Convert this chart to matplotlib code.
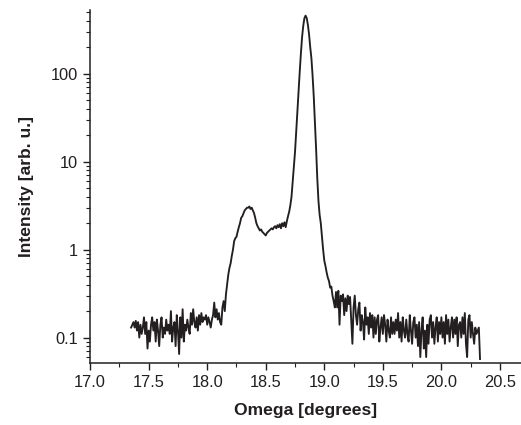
import numpy as np
import matplotlib
matplotlib.use("Agg")
import matplotlib.pyplot as plt
from matplotlib.ticker import LogLocator, FixedLocator, NullFormatter

plt.rcParams['font.family'] = ['Liberation Sans', 'DejaVu Sans']

omega_start = 17.35
omega_step = 0.01

intensity = [
    # 17.35 - 17.44
    0.13, 0.14, 0.15, 0.13, 0.155, 0.12, 0.15, 0.10, 0.14, 0.11,
    # 17.45 - 17.54
    0.13, 0.17, 0.11, 0.15, 0.075, 0.12, 0.09, 0.14, 0.17, 0.12,
    # 17.55 - 17.64
    0.15, 0.09, 0.16, 0.12, 0.08, 0.14, 0.17, 0.10, 0.13, 0.11,
    # 17.65 - 17.74
    0.16, 0.12, 0.14, 0.11, 0.20, 0.09, 0.13, 0.15, 0.08, 0.18,
    # 17.75 - 17.84
    0.12, 0.065, 0.17, 0.10, 0.21, 0.09, 0.14, 0.12, 0.16, 0.13,
    # 17.85 - 17.94
    0.11, 0.19, 0.14, 0.21, 0.15, 0.13, 0.17, 0.12, 0.18, 0.14,
    # 17.95 - 18.04
    0.19, 0.15, 0.17, 0.16, 0.18, 0.14, 0.17, 0.15, 0.13, 0.16,
    # 18.05 - 18.14
    0.18, 0.25, 0.17, 0.21, 0.16, 0.19, 0.15, 0.14, 0.22, 0.26,
    # 18.15 - 18.24
    0.20, 0.31, 0.40, 0.52, 0.62, 0.70, 0.85, 1.0, 1.25, 1.35,
    # 18.25 - 18.34
    1.4, 1.6, 1.8, 2.0, 2.3, 2.4, 2.6, 2.8, 2.9, 3.0,
    # 18.35 - 18.44
    3.0, 3.1, 2.9, 3.0, 2.8, 2.6, 2.3, 2.0, 1.85, 1.75,
    # 18.45 - 18.54
    1.65, 1.7, 1.6, 1.55, 1.5, 1.45, 1.55, 1.6, 1.65, 1.7,
    # 18.55 - 18.64
    1.75, 1.7, 1.8, 1.85, 1.75, 1.9, 1.8, 1.95, 1.75, 2.0,
    # 18.65 - 18.69
    1.85, 2.05, 1.8, 2.1, 2.4,
    # 18.70 - 18.79
    2.7, 3.2, 4.0, 6.0, 9.0, 13, 22, 38, 65, 105,
    # 18.80 - 18.89
    170, 260, 350, 430, 460, 430, 360, 280, 200, 150,
    # 18.90 - 18.99
    95, 55, 28, 14, 6.5, 3.6, 2.5, 2.0, 1.4, 1.0,
    # 19.00 - 19.09
    0.75, 0.65, 0.55, 0.48, 0.44, 0.37, 0.38, 0.30, 0.26, 0.22,
    # 19.10 - 19.19
    0.33, 0.22, 0.34, 0.14, 0.30, 0.26, 0.31, 0.18, 0.28, 0.20,
    # 19.20 - 19.29
    0.30, 0.24, 0.29, 0.16, 0.085, 0.22, 0.30, 0.18, 0.14, 0.21,
    # 19.30 - 19.39
    0.25, 0.12, 0.18, 0.15, 0.095, 0.22, 0.14, 0.17, 0.11, 0.19,
    # 19.40 - 19.49
    0.13, 0.18, 0.10, 0.17, 0.11, 0.16, 0.18, 0.09, 0.13, 0.17,
    # 19.50 - 19.59
    0.11, 0.18, 0.14, 0.09, 0.16, 0.12, 0.10, 0.17, 0.11, 0.15,
    # 19.60 - 19.69
    0.11, 0.16, 0.12, 0.19, 0.10, 0.15, 0.09, 0.17, 0.12, 0.10,
    # 19.70 - 19.79
    0.16, 0.11, 0.09, 0.18, 0.12, 0.085, 0.15, 0.17, 0.10, 0.14,
    # 19.80 - 19.89
    0.08, 0.15, 0.06, 0.12, 0.17, 0.075, 0.12, 0.06, 0.14, 0.085,
    # 19.90 - 19.99
    0.16, 0.18, 0.10, 0.15, 0.085, 0.13, 0.17, 0.09, 0.15, 0.11,
    # 20.00 - 20.09
    0.17, 0.10, 0.15, 0.085, 0.18, 0.11, 0.16, 0.09, 0.13, 0.17,
    # 20.10 - 20.19
    0.10, 0.16, 0.11, 0.17, 0.08, 0.14, 0.15, 0.10, 0.17, 0.11,
    # 20.20 - 20.29
    0.19, 0.085, 0.06, 0.16, 0.18, 0.10, 0.15, 0.11, 0.085, 0.13,
    # 20.30 - 20.33
    0.11, 0.12, 0.13, 0.057,
]

omega = np.round(omega_start + omega_step * np.arange(len(intensity)), 2)

x_ticks = [17.0, 17.5, 18.0, 18.5, 19.0, 19.5, 20.0, 20.5]
x_tick_labels = ["17.0", "17.5", "18.0", "18.5", "19.0", "19.5", "20.0", "20.5"]
y_ticks = [0.1, 1, 10, 100]
y_tick_labels = ["0.1", "1", "10", "100"]

fig = plt.figure(figsize=(5.21, 4.25), dpi=100)
ax = fig.add_axes([0.173, 0.147, 0.827, 0.829])

ax.plot(omega, intensity, color='#231f20', lw=1.35)

ax.set_yscale('log')
ax.set_xlim(17.0, 20.68)
ax.set_ylim(0.052, 530)

ax.set_xticks(x_ticks)
ax.set_xticklabels(x_tick_labels)
ax.xaxis.set_minor_locator(FixedLocator([17.25, 17.75, 18.25, 18.75, 19.25, 19.75, 20.25]))
ax.set_yticks(y_ticks)
ax.set_yticklabels(y_tick_labels)
ax.yaxis.set_minor_locator(LogLocator(base=10, subs=np.arange(2, 10), numticks=20))
ax.yaxis.set_minor_formatter(NullFormatter())

for s in ['top', 'right']:
    ax.spines[s].set_visible(False)
for s in ['left', 'bottom']:
    ax.spines[s].set_linewidth(1.1)
    ax.spines[s].set_color('#231f20')

ax.tick_params(axis='both', which='major', direction='out', length=5, width=1.0,
               labelsize=11.8, colors='#231f20', pad=4)
ax.tick_params(axis='both', which='minor', direction='out', length=3, width=0.8,
               colors='#231f20')

ax.set_xlabel('Omega [degrees]', fontsize=12.6, fontweight='bold', labelpad=9, color='#231f20')
ax.set_ylabel('Intensity [arb. u.]', fontsize=12.6, fontweight='bold', labelpad=12, color='#231f20')

fig.savefig('out.png', dpi=100)
